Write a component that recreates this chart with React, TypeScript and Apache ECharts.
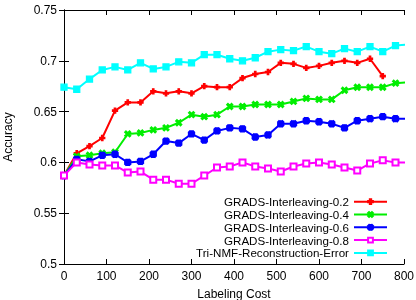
import React, { useEffect, useRef } from "react";
import * as echarts from "echarts";

// Labeling cost sampled every 30 units
const labelingCost = [
  0, 30, 60, 90, 120, 150, 180, 210, 240, 270, 300, 330, 360, 390, 420, 450,
  480, 510, 540, 570, 600, 630, 660, 690, 720, 750, 780, 810,
];

const interleaving02 = [
  0.587, 0.609, 0.616, 0.624, 0.651, 0.659, 0.659, 0.67, 0.668, 0.67, 0.668,
  0.675, 0.674, 0.674, 0.683, 0.687, 0.689, 0.698, 0.697, 0.693, 0.695, 0.698,
  0.7, 0.698, 0.702, 0.685,
];
const interleaving04 = [
  0.587, 0.606, 0.607, 0.609, 0.61, 0.628, 0.629, 0.632, 0.634, 0.639, 0.647,
  0.645, 0.647, 0.655, 0.655, 0.657, 0.657, 0.657, 0.66, 0.663, 0.662, 0.662,
  0.671, 0.674, 0.674, 0.674, 0.678, 0.679,
];
const interleaving06 = [
  0.587, 0.603, 0.601, 0.607, 0.608, 0.6, 0.601, 0.608, 0.621, 0.619, 0.628,
  0.622, 0.631, 0.634, 0.633, 0.625, 0.627, 0.638, 0.638, 0.641, 0.64, 0.638,
  0.634, 0.641, 0.643, 0.645, 0.643, 0.643,
];
const interleaving08 = [
  0.587, 0.6, 0.598, 0.597, 0.597, 0.59, 0.591, 0.583, 0.583, 0.579, 0.579,
  0.587, 0.595, 0.596, 0.6, 0.596, 0.594, 0.591, 0.596, 0.599, 0.6, 0.598,
  0.595, 0.592, 0.599, 0.602, 0.6, 0.6,
];
const reconstructionError = [
  0.674, 0.672, 0.682, 0.691, 0.694, 0.691, 0.698, 0.692, 0.694, 0.699, 0.698,
  0.706, 0.706, 0.702, 0.7, 0.703, 0.709, 0.711, 0.71, 0.714, 0.709, 0.707,
  0.712, 0.709, 0.714, 0.709, 0.715, 0.716,
];

const seriesNames = [
  "GRADS-Interleaving-0.2",
  "GRADS-Interleaving-0.4",
  "GRADS-Interleaving-0.6",
  "GRADS-Interleaving-0.8",
  "Tri-NMF-Reconstruction-Error",
];

// marker shapes in a 10x10 box
const PLUS = "path://M3.6,0h2.8v3.6h3.6v2.8h-3.6v3.6h-2.8v-3.6h-3.6v-2.8h3.6z";
const CROSS = "path://M0,2L2,0L5,3L8,0L10,2L7,5L10,8L8,10L5,7L2,10L0,8L3,5Z";
const STAR =
  "path://M3.6,0h2.8v3.6h3.6v2.8h-3.6v3.6h-2.8v-3.6h-3.6v-2.8h3.6zM0,2L2,0L5,3L8,0L10,2L7,5L10,8L8,10L5,7L2,10L0,8L3,5Z";

const FONT = "'Liberation Sans', Arial, sans-serif";

function pairs(ys: number[]) {
  return ys.map((y, i) => [labelingCost[i], y]);
}

export default function App() {
  const ref = useRef<HTMLDivElement>(null);

  useEffect(() => {
    if (!ref.current) return;
    const chart = echarts.init(ref.current, undefined, { renderer: "svg" });

    const mk = (
      name: string,
      ys: number[],
      color: string,
      symbol: string,
      size: number
    ) => ({
      name,
      type: "line",
      data: pairs(ys),
      symbol,
      symbolSize: size,
      showAllSymbol: true,
      clip: true,
      lineStyle: { color, width: 2 },
      itemStyle: { color, borderColor: color, borderWidth: 1.3 },
      emphasis: { disabled: true },
    });

    const axisLine = { show: true, lineStyle: { color: "#000", width: 1 } };
    const axisTick = {
      show: true,
      inside: true,
      length: 5,
      lineStyle: { color: "#000", width: 1 },
    };
    const axisLabel = { color: "#000", fontSize: 12, fontFamily: FONT };

    chart.setOption({
      animation: false,
      grid: {
        left: 64,
        right: 12,
        top: 10,
        bottom: 36,
        outerBoundsMode: "none",
        containLabel: false,
      },
      xAxis: [
        {
          type: "value",
          min: 0,
          max: 800,
          interval: 100,
          position: "bottom",
          name: "Labeling Cost",
          nameLocation: "middle",
          nameGap: 24,
          nameTextStyle: { color: "#000", fontSize: 12, fontFamily: FONT },
          axisLine,
          axisTick,
          axisLabel: { ...axisLabel, margin: 6 },
          splitLine: { show: false },
        },
        {
          type: "value",
          min: 0,
          max: 800,
          interval: 100,
          position: "top",
          axisLine,
          axisTick,
          axisLabel: { show: false },
          splitLine: { show: false },
        },
      ],
      yAxis: [
        {
          type: "value",
          min: 0.5,
          max: 0.75,
          interval: 0.05,
          position: "left",
          name: "Accuracy",
          nameLocation: "middle",
          nameGap: 50,
          nameTextStyle: { color: "#000", fontSize: 12, fontFamily: FONT },
          axisLine,
          axisTick,
          axisLabel: {
            ...axisLabel,
            margin: 7,
            formatter: (v: number) => String(parseFloat(v.toFixed(2))),
          },
          splitLine: { show: false },
        },
        {
          type: "value",
          min: 0.5,
          max: 0.75,
          interval: 0.05,
          position: "right",
          axisLine,
          axisTick,
          axisLabel: { show: false },
          splitLine: { show: false },
        },
      ],
      legend: {
        data: seriesNames,
        orient: "vertical",
        align: "right",
        right: 28,
        bottom: 41,
        itemWidth: 33,
        itemHeight: 6,
        itemGap: 0.6,
        padding: 0,
        selectedMode: false,
        textStyle: {
          color: "#000",
          fontSize: 11.6,
          fontFamily: FONT,
          lineHeight: 12.2,
        },
      },
      series: [
        mk(seriesNames[0], interleaving02, "#ff0000", PLUS, 5),
        mk(seriesNames[1], interleaving04, "#00ee00", CROSS, 6),
        mk(seriesNames[2], interleaving06, "#0000ff", STAR, 6),
        mk(seriesNames[3], interleaving08, "#ff00ff", "emptyRect", 6),
        mk(seriesNames[4], reconstructionError, "#00ffff", "rect", 6),
      ],
    });

    return () => chart.dispose();
  }, []);

  return (
    <div
      ref={ref}
      style={{ position: "fixed", left: 0, top: 0, width: 416, height: 300 }}
    />
  );
}
